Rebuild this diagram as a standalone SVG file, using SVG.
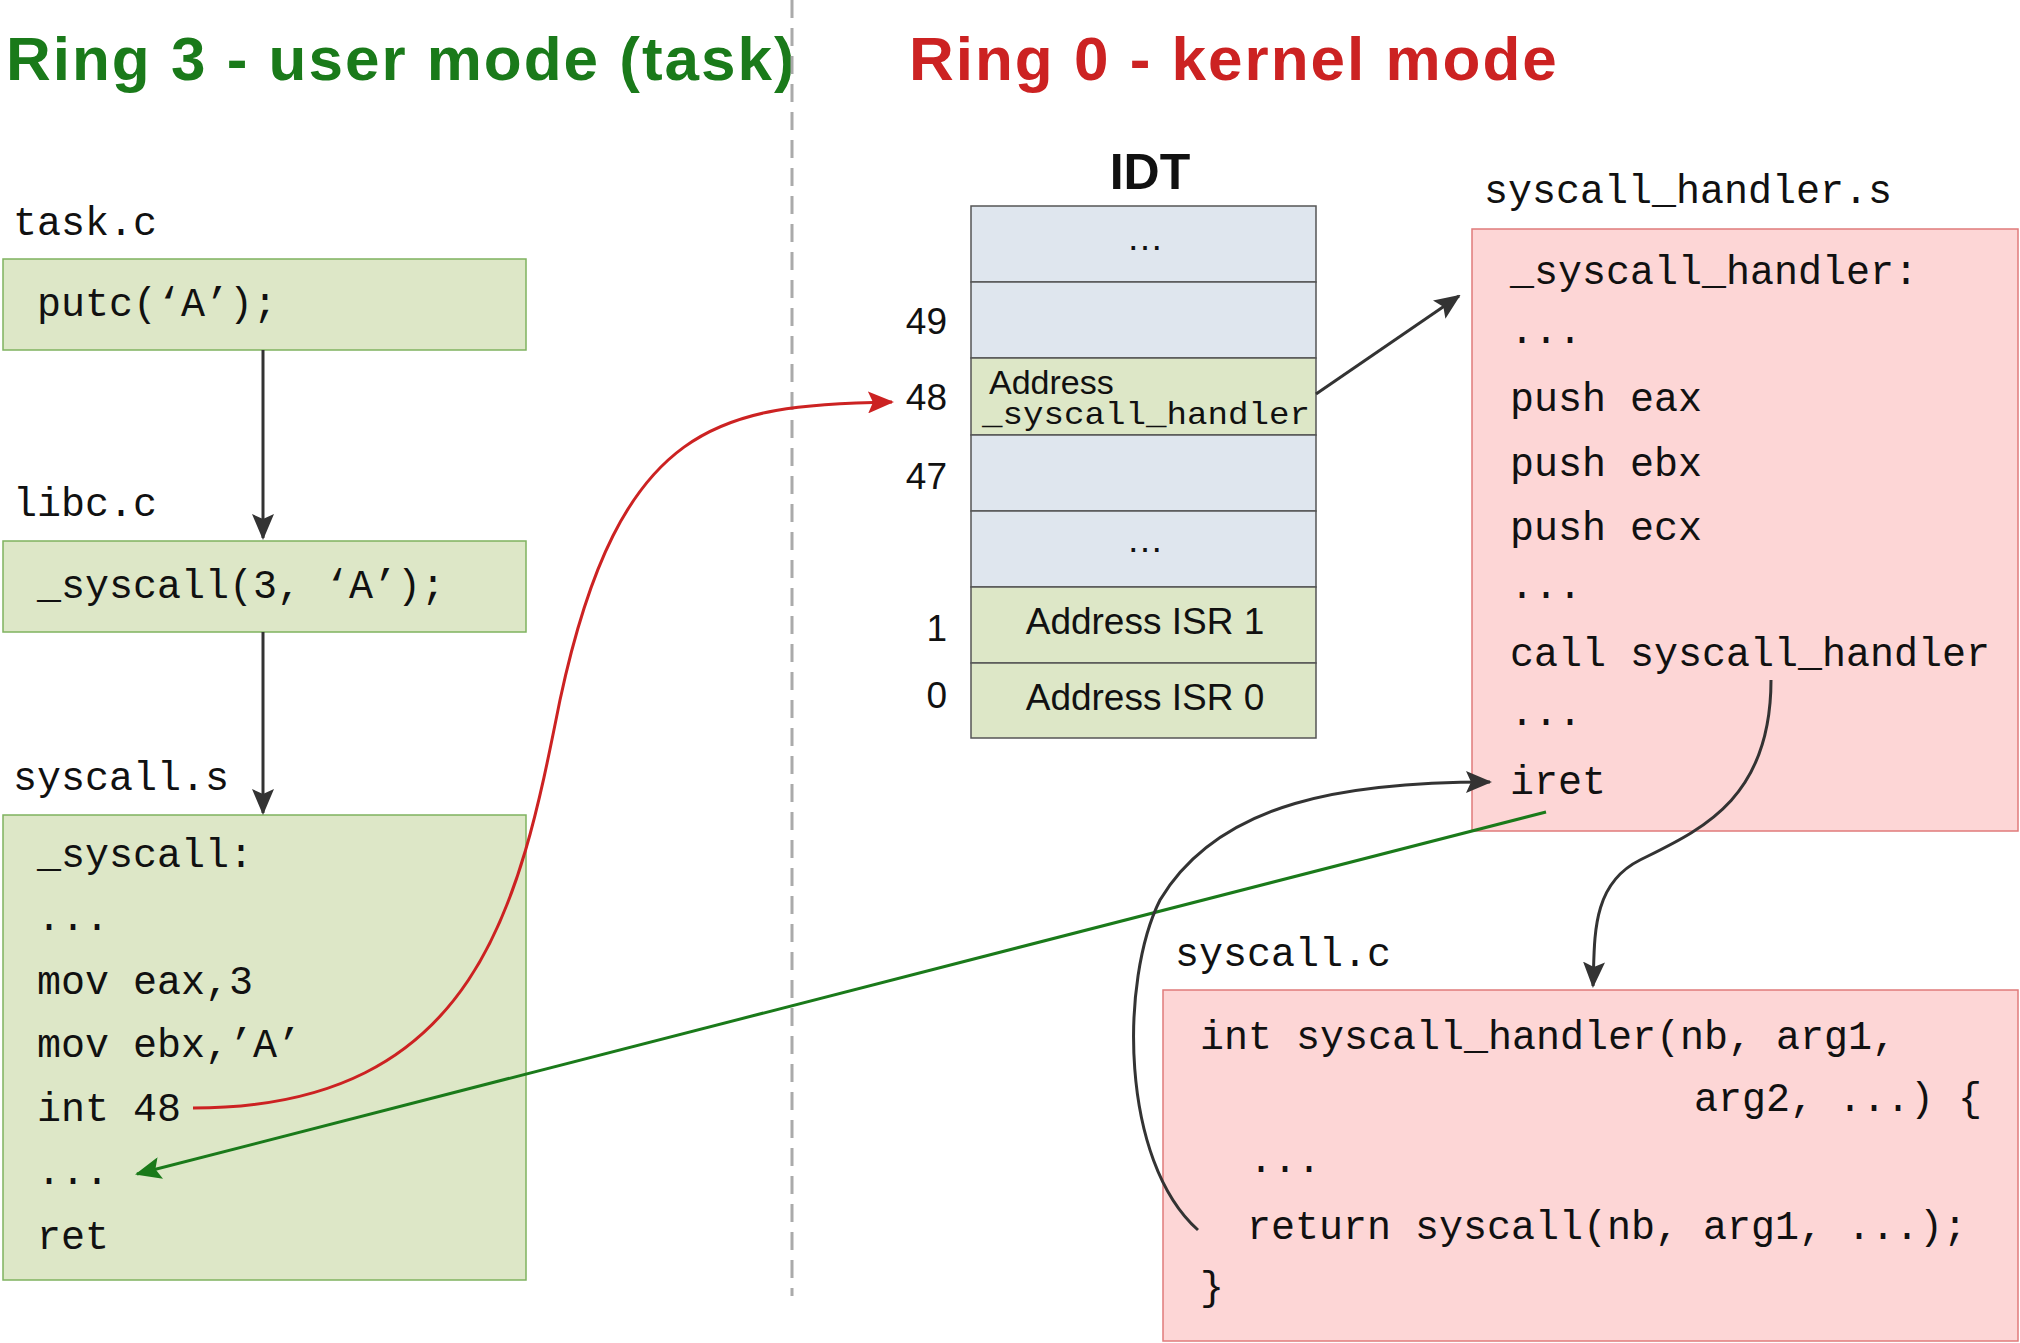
<svg xmlns="http://www.w3.org/2000/svg" width="2020" height="1343" viewBox="0 0 2020 1343">
<style>
.t{font-family:"Liberation Sans","DejaVu Sans",sans-serif}
.m{font-family:"Liberation Mono","DejaVu Sans Mono",monospace;font-size:40px;fill:#111}
.g{fill:#dde7c7;stroke:#7fb35f;stroke-width:1.5}
.b{fill:#dfe6ee;stroke:#555;stroke-width:1.5}
.r{fill:#fdd6d6;stroke:#e07b7b;stroke-width:1.5}
.s{font-family:"Liberation Sans","DejaVu Sans",sans-serif;font-size:37px;fill:#111}
</style>
<defs>
<marker id="ak" markerWidth="26" markerHeight="22" refX="24" refY="11" orient="auto" markerUnits="userSpaceOnUse" viewBox="0 0 26 22"><path d="M0,0 L26,11 L0,22 L5,11 Z" fill="#333"/></marker>
<marker id="ar" markerWidth="26" markerHeight="22" refX="24" refY="11" orient="auto" markerUnits="userSpaceOnUse" viewBox="0 0 26 22"><path d="M0,0 L26,11 L0,22 L5,11 Z" fill="#cc2222"/></marker>
<marker id="ag" markerWidth="26" markerHeight="22" refX="24" refY="11" orient="auto" markerUnits="userSpaceOnUse" viewBox="0 0 26 22"><path d="M0,0 L26,11 L0,22 L5,11 Z" fill="#1a7a1a"/></marker>
</defs>
<rect width="2020" height="1343" fill="#fff"/>
<text class="t" x="6" y="80" font-size="62" letter-spacing="2" font-weight="bold" fill="#1a7a1a" style="font-weight:600">Ring 3 - user mode (task)</text>
<text class="t" x="909" y="80" font-size="62" letter-spacing="2" fill="#cc2222" style="font-weight:600">Ring 0 - kernel mode</text>
<line x1="792" y1="0" x2="792" y2="1296" stroke="#aaa" stroke-width="3" stroke-dasharray="18,10"/>

<g id="task">
<text class="m" x="13" y="235">task.c</text>
<rect class="g" x="3" y="259" width="523" height="91"/>
<text class="m" x="37" y="316">putc(‘A’);</text>
</g>
<g id="libc">
<text class="m" x="13" y="516">libc.c</text>
<rect class="g" x="3" y="541" width="523" height="91"/>
<text class="m" x="37" y="598">_syscall(3, ‘A’);</text>
</g>
<g id="syscall_s">
<text class="m" x="13" y="790">syscall.s</text>
<rect class="g" x="3" y="815" width="523" height="465"/>
<text class="m" x="37" y="867">_syscall:</text>
<text class="m" x="37" y="930">...</text>
<text class="m" x="37" y="994">mov eax,3</text>
<text class="m" x="37" y="1057">mov ebx,’A’</text>
<text class="m" x="37" y="1121">int 48</text>
<text class="m" x="37" y="1184">...</text>
<text class="m" x="37" y="1249">ret</text>
</g>
<g id="idt">
<text class="t" x="1150" y="189" font-size="50" font-weight="bold" text-anchor="middle" fill="#111">IDT</text>
<rect class="b" x="971" y="206" width="345" height="76"/>
<rect class="b" x="971" y="282" width="345" height="76"/>
<rect class="g" x="971" y="358" width="345" height="77" style="stroke:#555"/>
<rect class="b" x="971" y="435" width="345" height="76"/>
<rect class="b" x="971" y="511" width="345" height="76"/>
<rect class="g" x="971" y="587" width="345" height="76" style="stroke:#555"/>
<rect class="g" x="971" y="663" width="345" height="75" style="stroke:#555"/>
<text class="s" x="1145" y="250" text-anchor="middle">…</text>
<text class="s" x="1145" y="552" text-anchor="middle">…</text>
<text class="s" x="989" y="394" style="font-size:34px">Address</text>
<text class="m" x="982" y="424" style="font-size:32px" textLength="328" lengthAdjust="spacingAndGlyphs">_syscall_handler</text>
<text class="s" x="1145" y="634" text-anchor="middle">Address ISR 1</text>
<text class="s" x="1145" y="710" text-anchor="middle">Address ISR 0</text>
<g text-anchor="end">
<text class="s" x="947" y="334">49</text>
<text class="s" x="947" y="410">48</text>
<text class="s" x="947" y="489">47</text>
<text class="s" x="947" y="641">1</text>
<text class="s" x="947" y="708">0</text>
</g>
</g>
<g id="syscall_handler_s">
<text class="m" x="1484" y="203">syscall_handler.s</text>
<rect class="r" x="1472" y="229" width="546" height="602"/>
<text class="m" x="1510" y="284">_syscall_handler:</text>
<text class="m" x="1510" y="343">...</text>
<text class="m" x="1510" y="411">push eax</text>
<text class="m" x="1510" y="476">push ebx</text>
<text class="m" x="1510" y="540">push ecx</text>
<text class="m" x="1510" y="598">...</text>
<text class="m" x="1510" y="666">call syscall_handler</text>
<text class="m" x="1510" y="725">...</text>
<text class="m" x="1510" y="794">iret</text>
</g>
<g id="syscall_c">
<text class="m" x="1175" y="966">syscall.c</text>
<rect class="r" x="1163" y="990" width="855" height="351"/>
<text class="m" x="1200" y="1049">int syscall_handler(nb, arg1,</text>
<text class="m" x="1694" y="1111">arg2, ...) {</text>
<text class="m" x="1249" y="1172">...</text>
<text class="m" x="1247" y="1239">return syscall(nb, arg1, ...);</text>
<text class="m" x="1200" y="1300">}</text>
</g>
<g id="connectors" fill="none" stroke-width="3">
<line x1="263" y1="350" x2="263" y2="538" stroke="#333" marker-end="url(#ak)"/>
<line x1="263" y1="632" x2="263" y2="813" stroke="#333" marker-end="url(#ak)"/>
<line x1="1316" y1="394" x2="1459" y2="296" stroke="#333" marker-end="url(#ak)"/>
<path d="M193,1108 C480,1108 520,900 560,700 C620,420 720,405 892,402" stroke="#cc2222" marker-end="url(#ar)"/>
<line x1="1546" y1="812" x2="137" y2="1174" stroke="#1a7a1a" marker-end="url(#ag)"/>
<path d="M1771,680 C1771,800 1700,830 1640,860 C1590,885 1595,940 1593,986" stroke="#333" marker-end="url(#ak)"/>
<path d="M1198,1230 C1120,1160 1120,980 1160,900 C1220,800 1350,782 1490,782" stroke="#333" marker-end="url(#ak)"/>
</g>
</svg>
